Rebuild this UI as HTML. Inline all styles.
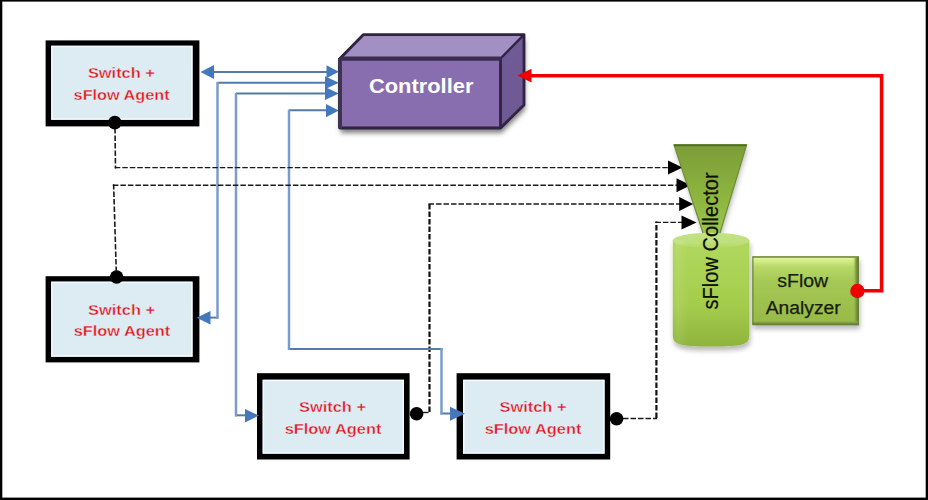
<!DOCTYPE html>
<html><head><meta charset="utf-8"><title>sFlow diagram</title>
<style>
html,body{margin:0;padding:0;background:#fff;}
body{width:928px;height:500px;overflow:hidden;}
svg{display:block;font-family:"Liberation Sans",sans-serif;}
</style></head>
<body>
<svg width="928" height="500" viewBox="0 0 928 500">
<defs>
  <linearGradient id="funnelG" x1="0" y1="0" x2="0" y2="1">
    <stop offset="0" stop-color="#7c9c36"/>
    <stop offset="0.6" stop-color="#8db53f"/>
    <stop offset="1" stop-color="#9cc64c"/>
  </linearGradient>
  <linearGradient id="cylG" x1="0" y1="0" x2="0" y2="1">
    <stop offset="0" stop-color="#b0d85e"/>
    <stop offset="0.6" stop-color="#a5cd4c"/>
    <stop offset="1" stop-color="#8eb43c"/>
  </linearGradient>
  <linearGradient id="cylTop" x1="0" y1="0" x2="0" y2="1">
    <stop offset="0" stop-color="#c2e283"/>
    <stop offset="0.6" stop-color="#bfe07e"/>
    <stop offset="1" stop-color="#b0d85e"/>
  </linearGradient>
  <linearGradient id="cylL" x1="0" y1="0" x2="1" y2="0">
    <stop offset="0" stop-color="#fff" stop-opacity="0.0"/>
    <stop offset="0.06" stop-color="#fff" stop-opacity="0.1"/>
    <stop offset="0.2" stop-color="#fff" stop-opacity="0"/>
    <stop offset="1" stop-color="#fff" stop-opacity="0"/>
  </linearGradient>
  <linearGradient id="anaG" x1="0" y1="0" x2="0" y2="1">
    <stop offset="0" stop-color="#7f9a3c"/>
    <stop offset="0.025" stop-color="#e0f699"/>
    <stop offset="0.07" stop-color="#d3ec86"/>
    <stop offset="0.15" stop-color="#b8d868"/>
    <stop offset="0.35" stop-color="#a6c956"/>
    <stop offset="1" stop-color="#96b947"/>
  </linearGradient>
  <linearGradient id="anaR" x1="0" y1="0" x2="1" y2="0">
    <stop offset="0" stop-color="#9cbf4d" stop-opacity="0"/>
    <stop offset="0.5" stop-color="#7e9a45"/>
    <stop offset="1" stop-color="#5c6b3c"/>
  </linearGradient>
  <linearGradient id="anaB" x1="0" y1="0" x2="0" y2="1">
    <stop offset="0" stop-color="#9cbf4d" stop-opacity="0"/>
    <stop offset="0.5" stop-color="#819e45"/>
    <stop offset="1" stop-color="#5f6f3e"/>
  </linearGradient>
  <filter id="sh" x="-20%" y="-50%" width="140%" height="200%">
    <feGaussianBlur stdDeviation="2"/>
  </filter>
  <filter id="ds2" x="-10%" y="-10%" width="125%" height="130%">
    <feDropShadow dx="1" dy="4" stdDeviation="2.4" flood-color="#000" flood-opacity="0.28"/>
  </filter>
  <filter id="ds" x="-10%" y="-10%" width="125%" height="130%">
    <feDropShadow dx="1" dy="5" stdDeviation="2.6" flood-color="#000" flood-opacity="0.5"/>
  </filter>
</defs>

<!-- outer frame -->
<rect x="0" y="0" width="928" height="500" fill="#fff"/>
<rect x="0" y="0" width="928" height="1.6" fill="#000"/>
<rect x="0" y="497.6" width="928" height="2.4" fill="#000"/>
<rect x="0" y="0" width="2.3" height="500" fill="#000"/>
<rect x="925.7" y="0" width="2.3" height="500" fill="#000"/>

<!-- ===== blue connections ===== -->
<g fill="none" stroke="#557aa5" stroke-width="2">
  <line x1="212" y1="72" x2="328" y2="72"/>
  <line x1="217.5" y1="82.7" x2="326" y2="82.7"/>
  <line x1="236" y1="93.5" x2="326" y2="93.5"/>
  <line x1="289" y1="110.3" x2="328" y2="110.3"/>
  <line x1="288" y1="349" x2="442.5" y2="349"/>
  <line x1="208" y1="317.6" x2="218.5" y2="317.6"/>
  <line x1="235.2" y1="415.3" x2="248" y2="415.3"/>
  <line x1="440.5" y1="413.5" x2="452" y2="413.5"/>
</g>
<g fill="none" stroke="#7b9bcb" stroke-width="2.5">
  <line x1="217.5" y1="82" x2="217.5" y2="318.5"/>
  <line x1="236" y1="93" x2="236" y2="416.5"/>
  <line x1="289" y1="109.6" x2="289" y2="350"/>
  <line x1="441.5" y1="348" x2="441.5" y2="414.5"/>
</g>


<!-- ===== dashed connections ===== -->
<g fill="none" stroke="#1a1a1a" stroke-width="1.4" stroke-dasharray="5.5,2">
  <line x1="114.8" y1="167.6" x2="670" y2="167.6"/>
  <line x1="112.9" y1="185.2" x2="677" y2="185.2"/>
  <line x1="428.5" y1="204" x2="680" y2="204"/>
  <line x1="655.4" y1="222.4" x2="682" y2="222.4"/>
  <line x1="423" y1="412.5" x2="430" y2="412.5"/>
  <line x1="623" y1="418.5" x2="657" y2="418.5"/>
</g>
<g fill="none" stroke="#1a1a1a" stroke-width="1.6" stroke-dasharray="5.5,2">
  <line x1="115" y1="128" x2="115.5" y2="168.4"/>
  <line x1="116.3" y1="272" x2="113.6" y2="184.2"/>
</g>
<g fill="none" stroke="#111" stroke-width="2.2" stroke-dasharray="5.5,2">
  <line x1="429.5" y1="412" x2="429.5" y2="203"/>
  <line x1="656.4" y1="418" x2="656.4" y2="221.4"/>
</g>
<line x1="425.5" y1="349" x2="434" y2="349" stroke="#557aa5" stroke-width="2"/>
<g fill="#000">
  <polygon points="682.5,167.5 668,160.5 668,174.5"/>
  <polygon points="690.6,185.2 676.5,178.2 676.5,192.2"/>
  <polygon points="693.2,204 679.2,197 679.2,211"/>
  <polygon points="696.6,222.4 681.5,215.4 681.5,229.4"/>
</g>

<!-- ===== switch boxes ===== -->
<g fill="#000">
  <rect x="45.6" y="40.4" width="153.8" height="86.0"/>
  <rect x="45.6" y="276.2" width="153.8" height="86.2"/>
  <rect x="257" y="373.2" width="152.6" height="86.3"/>
  <rect x="456.6" y="373.2" width="153.6" height="86.3"/>
</g>
<g fill="#dcecf2">
  <rect x="51.1" y="45.7" width="141.5" height="74.1"/>
  <rect x="51.1" y="281.6" width="141.5" height="75.2"/>
  <rect x="262.6" y="379.7" width="141.4" height="74.0"/>
  <rect x="463" y="379.7" width="141.6" height="74.0"/>
</g>
<g fill="none" stroke="#f3fbfd" stroke-width="1.4">
  <rect x="51.9" y="46.5" width="139.9" height="72.5"/>
  <rect x="51.9" y="282.4" width="139.9" height="73.6"/>
  <rect x="263.4" y="380.5" width="139.8" height="72.4"/>
  <rect x="463.8" y="380.5" width="140.0" height="72.4"/>
</g>
<g fill="#4478bd">
  <polygon points="338.8,71.8 326.5,65.3 326.5,78.3"/>
  <polygon points="338.8,82.7 325,76.2 325,89.2"/>
  <polygon points="338.8,93.5 325,87 325,100"/>
  <polygon points="338.8,110.6 326,103.9 326,117.3"/>
  <polygon points="200.5,72 214,65 214,79"/>
  <polygon points="196.5,317.8 210.5,311 210.5,324.6"/>
  <polygon points="259,415.6 245,409 245,422.4"/>
  <polygon points="465,413.8 450,406.8 450,420.8"/>
</g>
<!-- dots -->
<g fill="#000">
  <circle cx="114.8" cy="122.6" r="6.8"/>
  <circle cx="116.6" cy="277" r="6.8"/>
  <circle cx="416.6" cy="413.8" r="6.8"/>
  <circle cx="616.6" cy="418.8" r="6.8"/>
</g>
<g fill="#e60f19" stroke="#dcecf2" stroke-width="0.35" font-weight="bold" font-size="14" text-anchor="middle">
  <text x="121.4" y="78" textLength="67" lengthAdjust="spacingAndGlyphs">Switch +</text>
  <text x="121.6" y="99.6" textLength="96" lengthAdjust="spacingAndGlyphs">sFlow Agent</text>
  <text x="121.6" y="314.8" textLength="67" lengthAdjust="spacingAndGlyphs">Switch +</text>
  <text x="122" y="336" textLength="96.5" lengthAdjust="spacingAndGlyphs">sFlow Agent</text>
  <text x="332.5" y="412" textLength="67" lengthAdjust="spacingAndGlyphs">Switch +</text>
  <text x="333" y="434" textLength="96.7" lengthAdjust="spacingAndGlyphs">sFlow Agent</text>
  <text x="533" y="412" textLength="67" lengthAdjust="spacingAndGlyphs">Switch +</text>
  <text x="533" y="434" textLength="96.7" lengthAdjust="spacingAndGlyphs">sFlow Agent</text>
</g>

<!-- ===== controller ===== -->
<polygon points="339.5,57.5 363,34.6 524,34.6 524,105 500.5,128 339.5,128" fill="#000" filter="url(#ds)"/>
<polygon points="340,58.5 363.5,34.6 524,34.6 500.5,58.5" fill="#a28fc4"/>
<polygon points="500.5,58.5 524,34.6 524,105 500.5,128" fill="#6f5a96"/>
<rect x="340" y="58.5" width="160.5" height="69.5" fill="#896eaf"/>
<g fill="none" stroke="#2f2341" stroke-linejoin="round">
  <path d="M340,128 L340,58.5 L363.5,34.6 L524,34.6 L524,105 L500.5,128 Z" stroke-width="2.8"/>
  <path d="M500.5,58.5 L524,34.6" stroke-width="2.4"/>
  <path d="M500.5,58.5 L500.5,128" stroke-width="2.8"/>
</g>
<line x1="340" y1="58.6" x2="500.5" y2="58.6" stroke="#3b2d52" stroke-width="4.4"/>
<line x1="340" y1="58" x2="340" y2="128.5" stroke="#3d3550" stroke-width="4"/>
<text x="421.2" y="92.7" fill="#fff" font-weight="bold" font-size="20" text-anchor="middle" textLength="104.5" lengthAdjust="spacingAndGlyphs">Controller</text>

<!-- ===== red feedback ===== -->
<polyline points="857,290.8 881.6,290.8 881.6,75.8 530,75.8" fill="none" stroke="#f00000" stroke-width="3.6"/>
<polygon points="517.3,75.6 531.5,68.8 531.5,82.4" fill="#f00000"/>

<!-- ===== collector ===== -->
<g filter="url(#ds2)"><polygon points="673.8,144.3 746.8,144.3 720,233 703,233" fill="url(#funnelG)"/></g>
<path d="M673.8,144.3 L703,233 M746.8,144.3 L720,233" stroke="#6a8a30" stroke-width="1.1" fill="none"/>
<line x1="673.8" y1="145.3" x2="746.8" y2="145.3" stroke="#536f24" stroke-width="2"/>
<g filter="url(#ds2)"><path d="M672.8,240 L672.8,335 C672.8,344.5 679,346.6 711.1,346.6 C743.2,346.6 749.4,344.5 749.4,335 L749.4,240 Z" fill="url(#cylG)"/></g>
<ellipse cx="711.1" cy="240.5" rx="38.3" ry="7.8" fill="url(#cylTop)"/>
<path d="M672.8,240 L672.8,335 C672.8,344.5 679,346.6 711.1,346.6 C743.2,346.6 749.4,344.5 749.4,335 L749.4,240 Z" fill="url(#cylL)"/>
<text transform="translate(717.6,309.4) rotate(-90)" font-size="21.8" fill="#0b0f05" stroke="#0b0f05" stroke-width="0.2" textLength="137" lengthAdjust="spacingAndGlyphs">sFlow Collector</text>

<!-- ===== analyzer ===== -->
<g filter="url(#ds2)"><rect x="752.3" y="256.4" width="106.7" height="68.6" fill="url(#anaG)"/></g>
<rect x="853" y="257.5" width="6" height="67.7" fill="url(#anaR)"/>
<rect x="752.8" y="320" width="106.2" height="5.2" fill="url(#anaB)"/>
<rect x="752.9" y="257" width="105.5" height="67.4" fill="none" stroke="#6a8238" stroke-width="1.2"/>
<g fill="#161d0b" stroke="#161d0b" stroke-width="0.25" font-size="18" text-anchor="middle">
  <text x="802.7" y="286.5" textLength="51" lengthAdjust="spacingAndGlyphs">sFlow</text>
  <text x="803.2" y="313.8" textLength="75" lengthAdjust="spacingAndGlyphs">Analyzer</text>
</g>
<circle cx="857.4" cy="291" r="7.2" fill="#f00000"/>
</svg>
</body></html>
